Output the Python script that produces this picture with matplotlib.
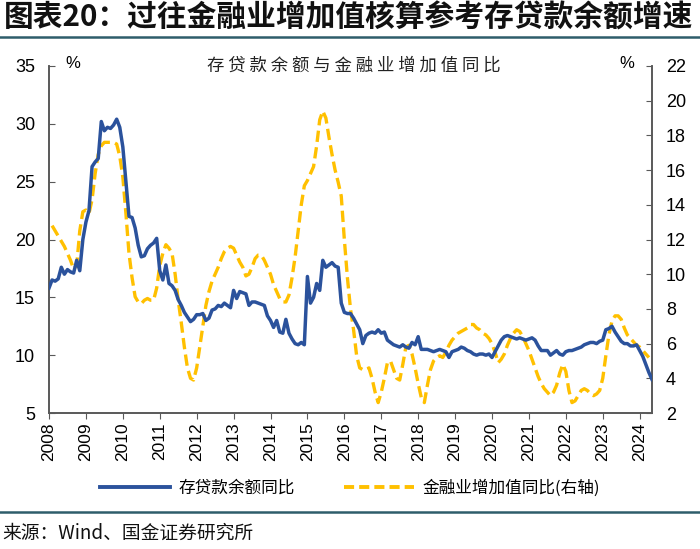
import numpy as np
import matplotlib
matplotlib.use("Agg")
import matplotlib.pyplot as plt
from matplotlib.lines import Line2D

plt.rcParams['font.family'] = ['Liberation Sans', 'Noto Sans CJK SC', 'DejaVu Sans']
CJK = ['Noto Sans CJK SC', 'DejaVu Sans']

# 存贷款余额同比 (%), monthly from 2008-01 to 2024-05
loans = [
    15.8, 16.5, 16.4, 16.6, 17.6, 17.0, 17.4, 17.2, 17.1, 18.2, 17.3, 20.0,   # 2008
    21.5, 22.5, 26.3, 26.7, 27.0, 30.2, 29.4, 29.7, 29.6, 29.9, 30.4, 29.7,   # 2009
    28.0, 25.0, 22.0, 21.9, 21.0, 19.5, 18.5, 18.6, 19.2, 19.5, 19.7, 20.1,   # 2010
    17.3, 16.5, 17.8, 16.2, 16.0, 15.6, 14.8, 14.3, 13.7, 13.3, 12.9, 13.1,   # 2011
    13.5, 13.5, 13.6, 13.0, 13.2, 13.9, 14.0, 14.3, 14.2, 14.5, 14.3, 14.1,   # 2012
    15.6, 14.9, 15.5, 15.4, 15.3, 14.3, 14.6, 14.6, 14.5, 14.4, 14.3, 13.4,   # 2013
    13.0, 12.4, 13.0, 12.0, 11.9, 13.1, 11.9, 11.4, 11.0, 10.9, 11.1, 10.9,   # 2014
    16.8, 14.5, 15.0, 16.2, 15.6, 18.2, 17.6, 17.8, 18.0, 17.7, 17.6, 14.5,   # 2015
    13.7, 13.6, 13.6, 13.2, 12.7, 12.2, 11.0, 11.7, 11.9, 12.0, 11.9, 12.2,   # 2016
    11.9, 12.0, 11.3, 11.1, 10.9, 10.8, 10.7, 10.9, 10.7, 10.6, 11.1, 10.9,   # 2017
    11.6, 10.5, 10.5, 10.5, 10.4, 10.3, 10.4, 10.5, 10.4, 10.3, 9.8, 10.3,    # 2018
    10.4, 10.5, 10.7, 10.6, 10.4, 10.3, 10.1, 10.0, 10.1, 10.1, 10.0, 10.1,   # 2019
    9.8, 10.3, 10.8, 11.3, 11.6, 11.7, 11.6, 11.5, 11.4, 11.5, 11.4, 11.3,    # 2020
    11.4, 11.5, 11.3, 10.8, 10.4, 10.4, 10.4, 10.0, 10.2, 10.4, 10.1, 10.0,   # 2021
    10.3, 10.4, 10.4, 10.5, 10.6, 10.7, 10.9, 11.0, 11.1, 11.1, 11.0, 11.2,   # 2022
    11.3, 12.2, 12.3, 12.5, 12.0, 11.6, 11.2, 11.0, 11.0, 10.8, 10.8, 10.9,   # 2023
    10.4, 9.9, 9.2, 8.5, 7.9,                                                 # 2024
]

# 金融业增加值同比 (%, right axis), monthly from 2008-02 to 2024-04
finance = [
    12.8, 12.5, 12.2, 11.9, 11.6, 11.2, 10.8, 10.3, 10.5, 12.5, 13.6,         # 2008
    13.7, 13.5, 14.3, 15.8, 16.9, 17.4, 17.6, 17.6, 17.6, 17.6, 17.5, 16.8,   # 2009
    15.6, 13.5, 11.2, 9.8, 8.7, 8.4, 8.3, 8.5, 8.6, 8.5, 8.5, 9.2,            # 2010
    10.5, 11.2, 11.7, 11.5, 11.2, 10.0, 8.5, 7.2, 5.8, 4.6, 4.0, 3.9,         # 2011
    4.6, 5.8, 7.0, 8.2, 9.0, 9.6, 10.0, 10.4, 10.9, 11.3, 11.5, 11.6,        # 2012
    11.5, 11.1, 10.7, 10.4, 9.9, 10.0, 10.4, 10.9, 11.1, 11.1, 10.8, 10.4,   # 2013
    10.0, 9.4, 9.0, 8.6, 8.4, 8.4, 8.8, 9.8, 11.0, 12.5, 14.0, 15.1,         # 2014
    15.4, 15.8, 16.2, 17.4, 18.9, 19.4, 19.0, 17.9, 16.9, 16.0, 15.3, 14.5,  # 2015
    12.0, 9.8, 8.0, 6.8, 5.3, 4.6, 4.5, 4.5, 4.6, 4.0, 3.2, 2.6,             # 2016
    3.2, 4.0, 4.9, 5.0, 4.5, 4.0, 3.9, 4.8, 5.8, 5.9, 5.4, 4.6,              # 2017
    3.7, 2.9, 2.6, 3.6, 4.5, 5.0, 5.2, 5.3, 5.2, 5.5, 5.9, 6.2,              # 2018
    6.4, 6.6, 6.7, 6.8, 6.9, 7.1, 7.1, 6.9, 6.8, 6.6, 6.5, 6.3,              # 2019
    6.0, 5.5, 4.9, 5.1, 5.4, 5.9, 6.3, 6.6, 6.8, 6.7, 6.4, 6.0,              # 2020
    5.6, 5.1, 4.6, 4.1, 3.7, 3.4, 3.2, 3.0, 3.2, 3.6, 4.3, 4.8,              # 2021
    4.4, 3.3, 2.6, 2.7, 3.0, 3.3, 3.4, 3.3, 3.1, 3.0, 3.1, 3.3,              # 2022
    4.0, 5.3, 6.5, 7.3, 7.6, 7.6, 7.4, 6.9, 6.5, 6.3, 6.1, 5.9,              # 2023
    5.8, 5.6, 5.4, 5.2,                                                       # 2024
]

years = list(range(2008, 2025))

x_loans = 2008 + np.arange(len(loans)) / 12
x_fin = 2008 + (np.arange(len(finance)) + 1) / 12

blue = '#2B529C'
gold = '#FFC000'
grey = '#595959'

fig = plt.figure(figsize=(7.0, 5.49), dpi=100)
ax = fig.add_axes([0.07, 0.2477, 0.8614, 0.6321])
ax2 = ax.twinx()

ax.plot(x_loans, loans, color=blue, lw=2.5, solid_joinstyle='round', zorder=3)
ax2.plot(x_fin, finance, color=gold, lw=2.4, dashes=(3.4, 1.6), zorder=2)
ax.set_zorder(ax2.get_zorder() + 1)
ax.patch.set_visible(False)

ax.set_xlim(2008, x_loans[-1])
ax.set_ylim(5, 35)
ax2.set_ylim(2, 22)
ax.set_yticks(range(5, 36, 5))
ax2.set_yticks(range(2, 23, 2))
ax.set_xticks(years)
ax.set_xticklabels([str(y) for y in years], rotation=90, fontsize=12.5)

for a in (ax, ax2):
    a.spines['top'].set_visible(False)
    for s in ('left', 'right', 'bottom'):
        a.spines[s].set_color(grey)
        a.spines[s].set_linewidth(1.2)
ax.tick_params(axis='y', direction='in', length=4, color=grey, labelsize=13, pad=10)
ax2.tick_params(axis='y', direction='in', length=4, color=grey, labelsize=13, pad=10)
ax.tick_params(axis='x', direction='out', length=4, color=grey, pad=3)

fig.text(73 / 700, 1 - 63 / 549, '%', fontsize=12, ha='center', va='center')
fig.text(627 / 700, 1 - 63 / 549, '%', fontsize=12, ha='center', va='center')
fig.text(354 / 700, 1 - 66 / 549, ' '.join('存贷款余额与金融业增加值同比'),
         family=CJK, fontsize=12.5, ha='center', va='center', color='#222222')

# title and frame lines
fig.text(0.006, 1 - 18 / 549, '图表20：过往金融业增加值核算参考存贷款余额增速',
         family=CJK, fontsize=21.4, weight='bold', ha='left', va='center', color='#111111')
fig.add_artist(Line2D([0, 1], [1 - 37 / 549] * 2, color='#2E5D6B', lw=1.8))
fig.add_artist(Line2D([0, 1], [1 - 512 / 549] * 2, color='#2E5D6B', lw=1.8))
fig.text(0.004, 1 - 533 / 549, '来源：Wind、国金证券研究所', family=CJK,
         fontsize=13.5, ha='left', va='center', color='#111111')

handles = [Line2D([], [], color=blue, lw=2.8),
           Line2D([], [], color=gold, lw=2.8, dashes=(2.6, 1.3))]
leg = fig.legend(handles, ['存贷款余额同比', '金融业增加值同比(右轴)'],
                 loc='center', bbox_to_anchor=(0.5, 1 - 488 / 549), ncol=2,
                 frameon=False, handlelength=4.2, columnspacing=3.0,
                 handletextpad=0.5, prop={'family': CJK, 'size': 12})

fig.savefig('out.png', dpi=100)
